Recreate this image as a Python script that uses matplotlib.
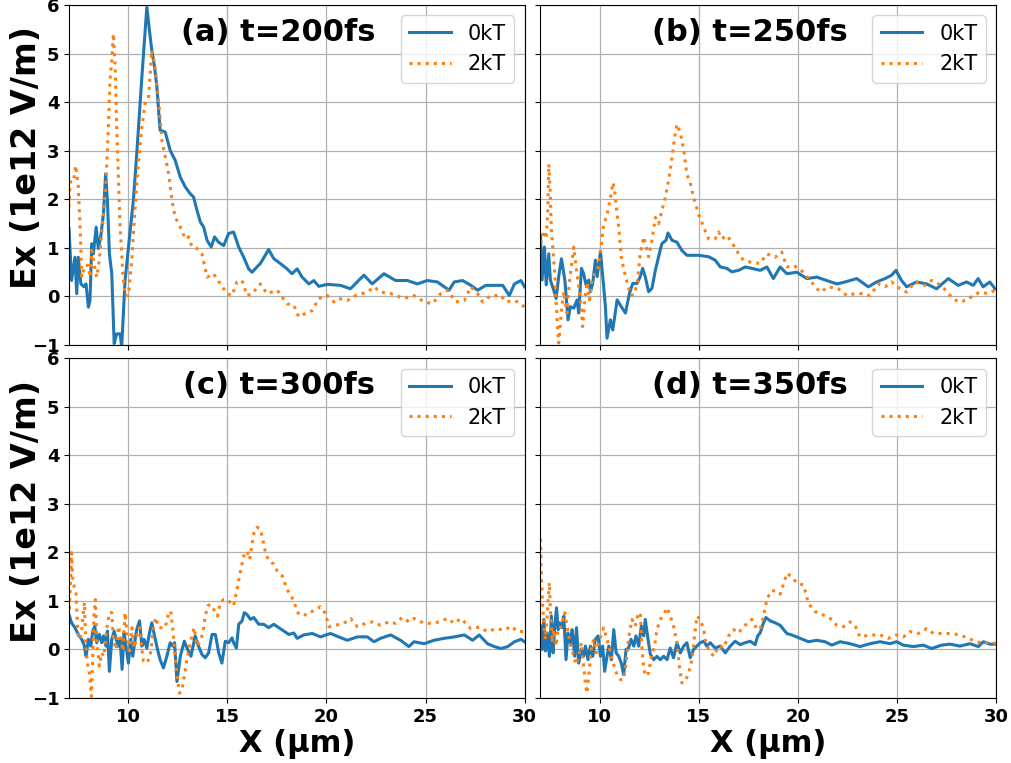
import matplotlib
matplotlib.use('Agg')
import matplotlib.pyplot as plt

# panel titles and legend labels
titles = ['(a) t=200fs', '(b) t=250fs', '(c) t=300fs', '(d) t=350fs']
labels = ['0kT', '2kT']

# (a) t=200fs
a_x0 = [7.0, 7.13, 7.3, 7.39, 7.47, 7.6, 7.76, 7.86, 7.98, 8.06,
        8.15, 8.23, 8.37, 8.48, 8.6, 8.74, 8.85, 8.94, 9.04, 9.16,
        9.28, 9.41, 9.58, 9.66, 9.83, 10.09, 10.25, 10.42, 10.68, 10.93,
        11.06, 11.18, 11.32, 11.43, 11.6, 11.86, 12.11, 12.36, 12.62, 12.87,
        13.12, 13.29, 13.46, 13.63, 13.8, 13.97, 14.18, 14.35, 14.55, 14.81,
        15.06, 15.31, 15.57, 15.82, 16.07, 16.24, 16.49, 16.66, 17.08, 17.34,
        17.67, 18.01, 18.26, 18.52, 18.77, 19.11, 19.36, 19.61, 20.04, 20.71,
        21.21, 21.89, 22.31, 22.9, 23.49, 24.08, 24.59, 25.09, 25.6, 26.19,
        26.45, 26.87, 27.29, 27.63, 28.05, 28.47, 28.9, 29.23, 29.49, 29.82,
        30.0]
a_y0 = [1.39, 0.32, 0.8, 0.05, 0.8, 0.25, 0.19, 0.25, -0.23, -0.09,
        1.08, 0.87, 1.42, 0.98, 1.22, 1.7, 2.52, 1.97, 0.87, 0.46,
        -0.98, -0.78, -0.78, -1.05, 0.32, 1.35, 1.97, 2.93, 4.52, 5.96,
        5.48, 5.07, 4.72, 4.34, 3.42, 3.38, 3.0, 2.8, 2.45, 2.25,
        2.11, 2.04, 1.77, 1.53, 1.42, 1.15, 1.01, 1.22, 1.11, 1.04,
        1.29, 1.32, 1.01, 0.8, 0.56, 0.49, 0.6, 0.67, 0.96, 0.77,
        0.67, 0.56, 0.46, 0.56, 0.39, 0.25, 0.32, 0.2, 0.24, 0.22,
        0.15, 0.43, 0.25, 0.46, 0.32, 0.32, 0.25, 0.32, 0.29, 0.12,
        0.29, 0.32, 0.22, 0.12, 0.22, 0.22, 0.22, 0.01, 0.25, 0.32,
        0.19]
a_x2 = [7.0, 7.05, 7.22, 7.34, 7.47, 7.56, 7.61, 7.64, 7.81, 7.98,
        8.06, 8.15, 8.32, 8.4, 8.53, 8.65, 8.74, 8.85, 8.99, 9.07,
        9.16, 9.24, 9.33, 9.41, 9.5, 9.58, 9.72, 9.83, 10.0, 10.17,
        10.34, 10.51, 10.68, 10.84, 11.01, 11.1, 11.18, 11.32, 11.43, 11.57,
        11.69, 11.86, 12.03, 12.2, 12.36, 12.62, 12.87, 13.04, 13.21, 13.46,
        13.71, 13.97, 14.3, 14.64, 14.98, 15.23, 15.48, 15.74, 15.99, 16.24,
        16.66, 17.0, 17.51, 18.01, 18.35, 18.6, 18.94, 19.28, 19.61, 20.04,
        20.37, 20.62, 21.05, 21.47, 22.06, 22.4, 22.73, 23.24, 23.91, 24.42,
        24.93, 25.35, 25.77, 26.11, 26.53, 26.96, 27.29, 27.63, 27.88, 28.3,
        28.81, 29.06, 29.49, 29.82, 30.0]
a_y2 = [1.83, 2.35, 2.35, 2.69, 2.25, 1.42, 0.87, 0.39, 0.63, 0.63,
        0.39, 0.94, 0.53, 0.39, 0.74, 1.29, 1.7, 2.18, 3.48, 4.45,
        4.86, 5.41, 4.72, 3.48, 2.38, 1.42, 0.46, 0.01, 0.01, 0.74,
        1.84, 2.8, 3.48, 3.97, 4.07, 4.58, 5.07, 4.79, 4.38, 3.83,
        3.21, 2.87, 2.52, 1.97, 1.63, 1.42, 1.18, 1.22, 1.01, 0.98,
        0.87, 0.39, 0.46, 0.25, 0.05, 0.01, 0.29, 0.32, 0.01, 0.05,
        0.25, 0.05, 0.12, -0.16, -0.19, -0.43, -0.36, -0.3, -0.05, 0.01,
        -0.12, -0.05, -0.09, 0.01, 0.08, 0.19, 0.08, 0.05, -0.05, 0.01,
        -0.12, -0.16, 0.05, 0.12, -0.12, -0.09, 0.19, 0.05, -0.12, 0.01,
        0.01, -0.12, -0.09, -0.16, -0.23]

# (b) t=250fs
b_x0 = [7.0, 7.08, 7.2, 7.29, 7.42, 7.5, 7.67, 7.79, 7.92, 8.06,
        8.23, 8.39, 8.51, 8.68, 8.85, 8.93, 9.07, 9.18, 9.3, 9.44,
        9.52, 9.64, 9.77, 9.86, 10.03, 10.16, 10.28, 10.36, 10.53, 10.65,
        10.87, 11.08, 11.29, 11.49, 11.66, 11.87, 12.04, 12.16, 12.29, 12.46,
        12.63, 12.8, 13.0, 13.13, 13.34, 13.44, 13.64, 13.89, 14.14, 14.39,
        14.65, 14.98, 15.49, 15.82, 16.08, 16.41, 16.66, 17.0, 17.34, 17.67,
        18.09, 18.43, 18.76, 19.1, 19.44, 19.94, 20.45, 20.95, 21.45, 21.96,
        22.38, 22.97, 23.55, 23.97, 24.4, 24.73, 24.95, 25.23, 25.49, 25.99,
        26.5, 27.0, 27.59, 28.09, 28.51, 28.85, 29.1, 29.35, 29.69, 29.95]
b_y0 = [1.25, 0.33, 1.01, 0.23, 0.87, 0.33, 0.12, -0.05, 0.4, 0.77,
        0.33, -0.49, -0.22, -0.25, -0.08, -0.35, 0.57, 0.46, 0.23, 0.33,
        0.09, 0.26, 0.74, 0.4, 0.91, 0.33, -0.22, -0.87, -0.49, -0.7,
        -0.08, -0.22, -0.35, 0.05, 0.26, 0.26, 0.4, 0.57, 0.4, 0.09,
        0.16, 0.53, 0.87, 1.08, 1.15, 1.3, 1.15, 1.11, 0.94, 0.84,
        0.84, 0.84, 0.81, 0.74, 0.6, 0.57, 0.5, 0.53, 0.6, 0.57,
        0.53, 0.6, 0.36, 0.6, 0.46, 0.49, 0.36, 0.39, 0.32, 0.25,
        0.29, 0.36, 0.19, 0.29, 0.36, 0.43, 0.53, 0.32, 0.19, 0.29,
        0.25, 0.15, 0.36, 0.22, 0.29, 0.22, 0.36, 0.19, 0.29, 0.15]
b_x2 = [7.0, 7.08, 7.17, 7.29, 7.37, 7.42, 7.49, 7.55, 7.62, 7.72,
        7.84, 7.92, 8.06, 8.18, 8.34, 8.46, 8.56, 8.68, 8.8, 8.9,
        9.02, 9.13, 9.24, 9.35, 9.47, 9.6, 9.74, 9.91, 10.08, 10.19,
        10.36, 10.53, 10.66, 10.75, 10.83, 10.95, 11.08, 11.2, 11.37, 11.54,
        11.71, 11.87, 12.04, 12.21, 12.34, 12.46, 12.63, 12.8, 12.97, 13.13,
        13.3, 13.47, 13.64, 13.77, 13.89, 14.06, 14.23, 14.39, 14.56, 14.73,
        14.98, 15.24, 15.49, 15.82, 15.99, 16.16, 16.41, 16.66, 17.0, 17.25,
        17.59, 18.09, 18.43, 18.85, 19.18, 19.44, 19.77, 20.11, 20.61, 21.12,
        21.54, 22.04, 22.46, 22.88, 23.31, 23.64, 24.06, 24.4, 24.73, 25.16,
        25.49, 25.91, 26.41, 26.75, 27.24, 27.75, 28.09, 28.51, 28.85, 29.18,
        29.6, 29.95]
b_y2 = [1.08, 1.18, 1.35, 1.18, 1.76, 2.72, 2.17, 1.35, 1.01, 0.46,
        -0.49, -0.97, -0.29, 0.09, -0.35, 0.29, 0.6, 1.01, 0.6, 0.29,
        -0.08, -0.63, -0.08, 0.29, -0.08, 0.29, 0.46, 0.6, 1.08, 1.49,
        1.66, 2.03, 2.34, 2.17, 1.83, 1.42, 0.81, 0.57, 0.29, 0.02,
        0.02, 0.23, 0.87, 1.22, 1.01, 0.81, 1.15, 1.62, 1.49, 1.76,
        2.03, 2.38, 2.85, 3.26, 3.54, 3.37, 3.02, 2.51, 2.34, 2.03,
        1.69, 1.42, 1.18, 1.18, 1.32, 1.18, 1.25, 1.11, 0.87, 0.74,
        0.7, 0.67, 0.87, 0.8, 0.91, 0.6, 0.63, 0.56, 0.32, 0.08,
        0.19, 0.15, 0.01, 0.05, 0.05, 0.01, 0.25, 0.19, 0.29, 0.15,
        0.08, 0.29, 0.22, 0.32, 0.22, -0.02, -0.12, -0.09, 0.01, 0.08,
        0.05, 0.12]

# (c) t=300fs
c_x0 = [7.0, 7.13, 7.3, 7.47, 7.64, 7.76, 7.86, 7.98, 8.1, 8.2,
        8.3, 8.4, 8.53, 8.65, 8.74, 8.87, 8.94, 9.04, 9.16, 9.28,
        9.38, 9.5, 9.58, 9.68, 9.78, 9.88, 10.0, 10.12, 10.22, 10.34,
        10.42, 10.56, 10.68, 10.79, 10.93, 11.06, 11.18, 11.32, 11.47, 11.6,
        11.77, 11.94, 12.11, 12.24, 12.33, 12.45, 12.62, 12.82, 12.99, 13.16,
        13.37, 13.54, 13.71, 13.88, 14.05, 14.22, 14.39, 14.56, 14.72, 14.89,
        15.06, 15.23, 15.31, 15.45, 15.57, 15.74, 15.85, 15.99, 16.16, 16.33,
        16.58, 16.83, 17.08, 17.34, 17.59, 17.85, 18.1, 18.35, 18.52, 18.85,
        19.28, 19.7, 20.2, 20.62, 21.05, 21.56, 22.06, 22.4, 22.73, 23.24,
        23.74, 24.16, 24.42, 24.93, 25.43, 25.94, 26.45, 26.96, 27.38, 27.71,
        28.13, 28.47, 28.81, 29.15, 29.49, 29.82, 30.0]
c_y0 = [0.72, 0.55, 0.45, 0.31, 0.21, 0.1, -0.14, 0.21, 0.07, 0.38,
        0.48, 0.14, 0.31, 0.14, 0.28, 0.07, 0.38, -0.45, 0.21, 0.38,
        0.21, 0.07, 0.21, -0.41, 0.34, 0.07, -0.28, 0.21, -0.14, 0.21,
        0.41, 0.59, 0.07, 0.21, 0.03, 0.34, 0.55, 0.28, 0.0, -0.21,
        -0.38, -0.14, 0.14, 0.07, 0.14, -0.66, -0.14, 0.17, 0.0, -0.14,
        0.28, 0.07, -0.1, -0.17, -0.07, 0.31, 0.31, -0.07, -0.28, 0.17,
        0.14, 0.24, 0.14, 0.03, 0.52, 0.59, 0.76, 0.72, 0.62, 0.66,
        0.52, 0.52, 0.45, 0.52, 0.45, 0.38, 0.31, 0.34, 0.23, 0.3,
        0.33, 0.26, 0.33, 0.26, 0.19, 0.26, 0.26, 0.16, 0.23, 0.3,
        0.19, 0.06, 0.16, 0.12, 0.19, 0.23, 0.26, 0.3, 0.19, 0.3,
        0.12, 0.06, 0.02, 0.06, 0.16, 0.21, 0.16]
c_x2 = [7.02, 7.08, 7.13, 7.19, 7.27, 7.35, 7.42, 7.47, 7.56, 7.64,
        7.73, 7.78, 7.85, 7.93, 8.03, 8.13, 8.2, 8.26, 8.33, 8.4,
        8.53, 8.65, 8.77, 8.9, 9.04, 9.16, 9.24, 9.38, 9.5, 9.61,
        9.72, 9.83, 9.92, 10.05, 10.17, 10.29, 10.42, 10.56, 10.68, 10.76,
        10.93, 11.1, 11.27, 11.38, 11.52, 11.69, 11.86, 12.03, 12.14, 12.24,
        12.36, 12.48, 12.58, 12.7, 12.82, 12.95, 13.09, 13.21, 13.32, 13.46,
        13.63, 13.76, 13.88, 14.01, 14.13, 14.27, 14.39, 14.5, 14.64, 14.81,
        14.98, 15.15, 15.31, 15.48, 15.65, 15.82, 15.99, 16.12, 16.24, 16.36,
        16.49, 16.66, 16.78, 16.92, 17.08, 17.34, 17.51, 17.76, 18.01, 18.26,
        18.43, 18.6, 18.85, 19.02, 19.36, 19.7, 19.95, 20.12, 20.46, 20.88,
        21.22, 21.56, 21.98, 22.31, 22.73, 23.16, 23.49, 23.83, 24.17, 24.42,
        24.93, 25.35, 25.69, 26.11, 26.45, 26.79, 27.29, 27.71, 28.13, 28.55,
        28.98, 29.32, 29.66, 30.0]
c_y2 = [0.83, 1.45, 2.0, 1.45, 1.28, 1.17, 0.55, 0.28, 0.21, 0.38,
        0.76, 0.97, 0.07, -0.28, -0.48, -0.97, -0.14, 0.69, 1.03, 0.21,
        -0.34, -0.07, -0.14, 0.41, 0.76, 0.76, 0.21, 0.0, 0.48, 0.21,
        -0.03, 0.76, 0.34, -0.1, 0.45, 0.03, 0.28, 0.45, 0.0, -0.24,
        -0.28, -0.14, 0.48, 0.66, 0.45, 0.45, 0.45, 0.76, 0.79, 0.41,
        -0.14, -0.62, -0.9, -0.86, -0.55, -0.21, 0.07, 0.28, 0.45, 0.07,
        0.17, 0.34, 0.69, 0.9, 0.93, 0.86, 0.76, 0.69, 0.97, 1.03,
        1.03, 0.97, 0.9, 1.24, 1.59, 1.93, 2.03, 1.86, 2.17, 2.45,
        2.52, 2.48, 2.28, 2.0, 1.83, 1.76, 1.62, 1.52, 1.24, 1.07,
        0.9, 0.72, 0.72, 0.71, 0.81, 0.88, 0.74, 0.47, 0.5, 0.54,
        0.64, 0.47, 0.54, 0.57, 0.5, 0.57, 0.54, 0.66, 0.57, 0.64,
        0.54, 0.54, 0.57, 0.64, 0.54, 0.64, 0.43, 0.46, 0.37, 0.43,
        0.4, 0.48, 0.37, 0.37]

# (d) t=350fs
d_x0 = [7.0, 7.08, 7.17, 7.25, 7.34, 7.45, 7.55, 7.64, 7.72, 7.81,
        7.89, 7.97, 8.09, 8.18, 8.29, 8.39, 8.51, 8.6, 8.73, 8.82,
        8.93, 9.07, 9.18, 9.27, 9.4, 9.52, 9.64, 9.77, 9.91, 10.03,
        10.14, 10.24, 10.36, 10.45, 10.58, 10.7, 10.82, 10.95, 11.08, 11.2,
        11.32, 11.45, 11.57, 11.71, 11.82, 11.96, 12.09, 12.21, 12.29, 12.43,
        12.55, 12.71, 12.88, 13.05, 13.22, 13.39, 13.55, 13.72, 13.89, 14.06,
        14.23, 14.39, 14.56, 14.73, 14.9, 15.07, 15.24, 15.4, 15.57, 15.82,
        16.08, 16.33, 16.58, 16.83, 17.08, 17.34, 17.59, 17.84, 17.97, 18.09,
        18.26, 18.38, 18.6, 18.85, 19.1, 19.44, 19.69, 20.11, 20.53, 20.95,
        21.37, 21.71, 22.13, 22.63, 23.13, 23.64, 24.15, 24.65, 24.98, 25.32,
        25.83, 26.33, 26.75, 27.25, 27.68, 28.18, 28.69, 29.11, 29.36, 29.7,
        30.0]
d_y0 = [0.48, 0.0, 0.62, -0.03, 0.34, -0.14, 0.69, -0.07, 0.48, 0.86,
        0.41, 0.55, 0.45, 0.69, -0.21, 0.34, 0.14, 0.41, -0.14, 0.45,
        -0.28, 0.0, -0.14, 0.07, -0.21, 0.07, -0.14, 0.21, 0.28, -0.14,
        0.07, -0.45, -0.14, 0.07, -0.21, 0.41, -0.07, -0.14, -0.28, -0.52,
        0.0, 0.03, 0.21, 0.07, 0.28, 0.07, 0.48, 0.28, 0.62, 0.21,
        -0.1, -0.21, -0.14, -0.21, -0.14, -0.21, 0.03, -0.17, 0.14, -0.07,
        0.07, 0.14, -0.17, 0.0, 0.07, 0.14, 0.17, 0.07, 0.14, 0.03,
        0.07, -0.07, 0.07, 0.17, 0.1, 0.14, 0.17, 0.1, 0.28, 0.34,
        0.55, 0.66, 0.59, 0.55, 0.5, 0.33, 0.3, 0.23, 0.16, 0.19,
        0.16, 0.09, 0.16, 0.12, 0.06, 0.12, 0.16, 0.12, 0.16, 0.09,
        0.06, 0.09, 0.02, 0.09, 0.11, 0.07, 0.12, 0.06, 0.16, 0.11,
        0.11]
d_x2 = [7.0, 7.03, 7.08, 7.17, 7.25, 7.34, 7.39, 7.45, 7.5, 7.59,
        7.67, 7.79, 7.89, 8.01, 8.13, 8.23, 8.34, 8.46, 8.56, 8.68,
        8.8, 8.93, 9.07, 9.15, 9.27, 9.35, 9.47, 9.57, 9.69, 9.81,
        9.94, 10.08, 10.19, 10.31, 10.45, 10.58, 10.7, 10.87, 11.03, 11.2,
        11.32, 11.45, 11.62, 11.79, 11.92, 12.04, 12.13, 12.21, 12.33, 12.46,
        12.6, 12.76, 12.88, 13.05, 13.22, 13.39, 13.55, 13.72, 13.89, 14.01,
        14.14, 14.31, 14.48, 14.65, 14.78, 14.9, 15.07, 15.24, 15.35, 15.49,
        15.74, 15.99, 16.24, 16.5, 16.75, 17.0, 17.25, 17.5, 17.67, 17.84,
        18.09, 18.26, 18.43, 18.65, 18.85, 19.1, 19.32, 19.44, 19.69, 19.94,
        20.28, 20.53, 20.87, 21.29, 21.63, 21.96, 22.3, 22.63, 22.88, 23.13,
        23.64, 24.15, 24.57, 24.98, 25.32, 25.66, 26.08, 26.5, 26.85, 27.25,
        27.76, 28.18, 28.6, 29.02, 29.36, 29.7, 30.0]
d_y2 = [2.28, 1.72, 1.17, 0.48, 0.21, 0.69, 1.03, 1.38, 0.83, 0.14,
        0.41, 0.07, 0.45, 0.45, 0.62, 0.76, 0.48, 0.21, 0.03, -0.14,
        -0.31, -0.14, 0.14, -0.21, -0.72, -0.9, -0.41, 0.03, 0.21, -0.07,
        0.14, 0.31, 0.45, 0.28, 0.07, -0.14, -0.31, -0.52, -0.62, -0.62,
        -0.28, 0.24, 0.62, 0.48, 0.72, 0.76, 0.0, -0.41, -0.55, -0.48,
        -0.14, 0.07, 0.41, 0.62, 0.72, 0.86, 0.69, 0.48, 0.14, -0.34,
        -0.69, -0.66, -0.48, -0.21, 0.28, 0.69, 0.62, 0.41, 0.14, 0.0,
        -0.14, 0.07, 0.03, 0.28, 0.41, 0.34, 0.48, 0.55, 0.62, 0.48,
        0.41, 0.69, 1.03, 1.21, 1.21, 1.14, 1.41, 1.57, 1.5, 1.37,
        1.33, 0.95, 0.78, 0.71, 0.64, 0.5, 0.47, 0.57, 0.5, 0.26,
        0.3, 0.3, 0.23, 0.3, 0.26, 0.37, 0.33, 0.43, 0.33, 0.33,
        0.33, 0.3, 0.23, 0.16, 0.12, 0.16, 0.12]

panels = [(a_x0, a_y0, a_x2, a_y2), (b_x0, b_y0, b_x2, b_y2),
          (c_x0, c_y0, c_x2, c_y2), (d_x0, d_y0, d_x2, d_y2)]

fig, axes = plt.subplots(2, 2, sharex=True, sharey=True, figsize=(10.11, 7.63), dpi=100)
fig.subplots_adjust(left=69 / 1011, right=996 / 1011, top=1 - 5 / 763, bottom=1 - 698 / 763,
                    wspace=0.035, hspace=0.041)

for i, ax in enumerate(axes.flat):
    x0, y0, x2, y2 = panels[i]
    ax.plot(x0, y0, color='#1f77b4', lw=2.2, label=labels[0])
    ax.plot(x2, y2, color='#ff7f0e', lw=2.2, linestyle=':', label=labels[1])
    ax.set_xlim(7, 30)
    ax.set_ylim(-1, 6)
    ax.grid(True, color='#b0b0b0', lw=0.9)
    ax.legend(loc='upper right', fontsize=15)
    ax.text(0.46, 0.92, titles[i], transform=ax.transAxes, ha='center', va='center',
            fontsize=22, fontweight='bold')
    for lab in ax.get_xticklabels() + ax.get_yticklabels():
        lab.set_fontweight('bold')
        lab.set_fontsize(13)

# y label sits close to the tick labels, like in the source figure
for ax in axes[:, 0]:
    ax.set_ylabel('Ex (1e12 V/m)', fontsize=24, fontweight='bold')
    ax.yaxis.set_label_coords(-0.058, 0.55)
for ax in axes[1, :]:
    ax.set_xlabel('X (μm)', fontsize=22, fontweight='bold', labelpad=2)

fig.savefig('out.png', dpi=100)
